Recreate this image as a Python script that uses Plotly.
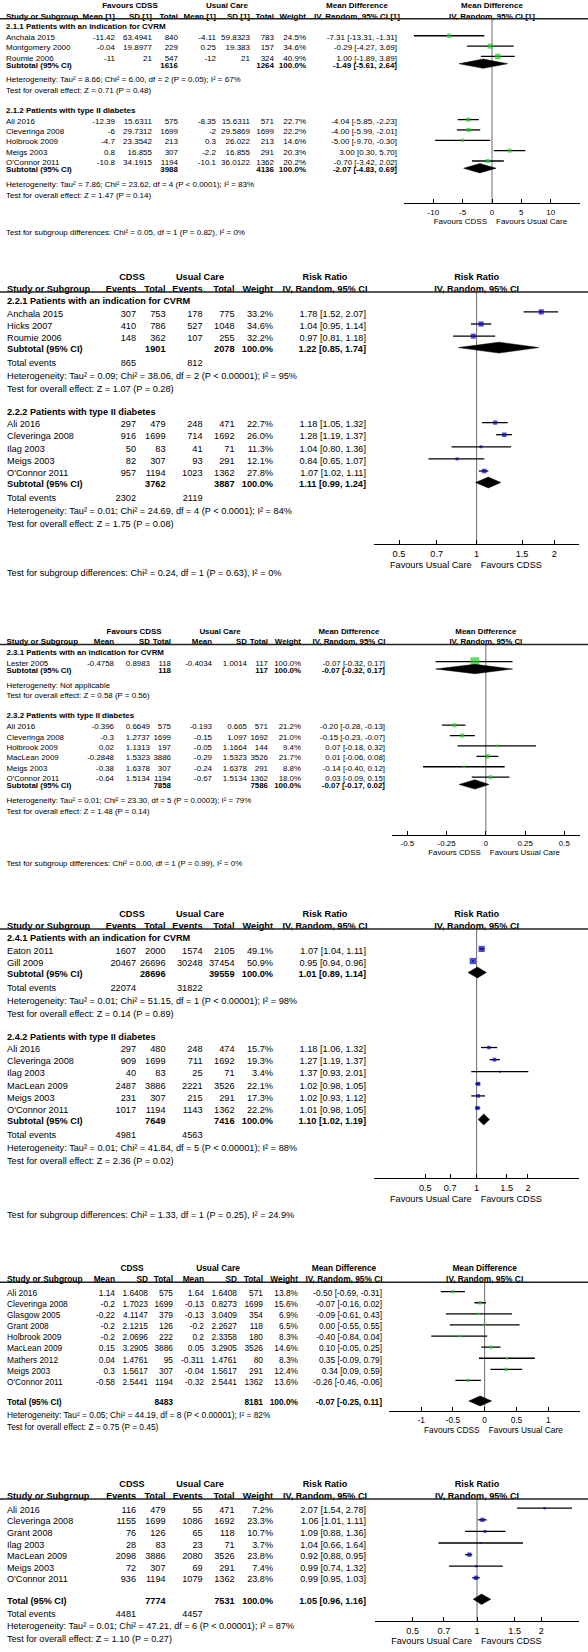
import math
import plotly.graph_objects as go

W, H = 588, 1652
FONT = "Arial, 'Liberation Sans', sans-serif"
GREEN = "#22cc22"
BLUE = "#0000c0"

# ---------------- Panel 1 : Mean difference, subgroups 2.1.x ----------------
P1_SUBGROUPS = ["2.1.1 Patients with an indication for CVRM", "2.1.2 Patients with type II diabetes"]
P1_STUDY = ["Anchala 2015", "Montgomery 2000", "Roumie 2006", "Ali 2016", "Cleveringa 2008",
            "Holbrook 2009", "Meigs 2003", "O'Connor 2011"]
P1_GROUP = [0, 0, 0, 1, 1, 1, 1, 1]
P1_CDSS_MEAN = [-11.42, -0.04, -11, -12.39, -6, -4.7, 0.8, -10.8]
P1_CDSS_SD = [63.4941, 19.8977, 21, 15.6311, 29.7312, 23.3542, 16.855, 34.1915]
P1_CDSS_N = [840, 229, 547, 575, 1699, 213, 307, 1194]
P1_UC_MEAN = [-4.11, 0.25, -12, -8.35, -2, 0.3, -2.2, -10.1]
P1_UC_SD = [59.8323, 19.383, 21, 15.6311, 29.5869, 26.022, 16.855, 36.0122]
P1_UC_N = [783, 157, 324, 571, 1699, 213, 291, 1362]
P1_WEIGHT = [24.5, 34.6, 40.9, 22.7, 22.2, 14.6, 20.3, 20.2]
P1_EST = [-7.31, -0.29, 1.00, -4.04, -4.00, -5.00, 3.00, -0.70]
P1_LO = [-13.31, -4.27, -1.89, -5.85, -5.99, -9.70, 0.30, -3.42]
P1_HI = [-1.31, 3.69, 3.89, -2.23, -2.01, -0.30, 5.70, 2.02]
P1_SUB_CDSS_N = [1616, 3988]
P1_SUB_UC_N = [1264, 4136]
P1_SUB_EST = [-1.49, -2.07]
P1_SUB_LO = [-5.61, -4.83]
P1_SUB_HI = [2.64, 0.69]
P1_HET = ["Heterogeneity: Tau² = 8.66; Chi² = 6.00, df = 2 (P = 0.05); I² = 67%",
          "Heterogeneity: Tau² = 7.86; Chi² = 23.62, df = 4 (P < 0.0001); I² = 83%"]
P1_OVERALL = ["Test for overall effect: Z = 0.71 (P = 0.48)",
              "Test for overall effect: Z = 1.47 (P = 0.14)"]
P1_SUBGROUP_TEST = "Test for subgroup differences: Chi² = 0.05, df = 1 (P = 0.82), I² = 0%"
P1_TICKS = [-10, -5, 0, 5, 10]

# ---------------- Panel 2 : Risk ratio, subgroups 2.2.x ----------------
P2_SUBGROUPS = ["2.2.1 Patients with an indication for CVRM", "2.2.2 Patients with type II diabetes"]
P2_STUDY = ["Anchala 2015", "Hicks 2007", "Roumie 2006", "Ali 2016", "Cleveringa 2008",
            "Ilag 2003", "Meigs 2003", "O'Connor 2011"]
P2_GROUP = [0, 0, 0, 1, 1, 1, 1, 1]
P2_CDSS_EV = [307, 410, 148, 297, 916, 50, 82, 957]
P2_CDSS_N = [753, 786, 362, 479, 1699, 83, 307, 1194]
P2_UC_EV = [178, 527, 107, 248, 714, 41, 93, 1023]
P2_UC_N = [775, 1048, 255, 471, 1692, 71, 291, 1362]
P2_WEIGHT = [33.2, 34.6, 32.2, 22.7, 26.0, 11.3, 12.1, 27.8]
P2_EST = [1.78, 1.04, 0.97, 1.18, 1.28, 1.04, 0.84, 1.07]
P2_LO = [1.52, 0.95, 0.81, 1.05, 1.19, 0.80, 0.65, 1.02]
P2_HI = [2.07, 1.14, 1.18, 1.32, 1.37, 1.36, 1.07, 1.11]
P2_SUB_CDSS_N = [1901, 3762]
P2_SUB_UC_N = [2078, 3887]
P2_SUB_CDSS_EV = [865, 2302]
P2_SUB_UC_EV = [812, 2119]
P2_SUB_EST = [1.22, 1.11]
P2_SUB_LO = [0.85, 0.99]
P2_SUB_HI = [1.74, 1.24]
P2_HET = ["Heterogeneity: Tau² = 0.09; Chi² = 38.06, df = 2 (P < 0.00001); I² = 95%",
          "Heterogeneity: Tau² = 0.01; Chi² = 24.69, df = 4 (P < 0.0001); I² = 84%"]
P2_OVERALL = ["Test for overall effect: Z = 1.07 (P = 0.28)",
              "Test for overall effect: Z = 1.75 (P = 0.08)"]
P2_SUBGROUP_TEST = "Test for subgroup differences: Chi² = 0.24, df = 1 (P = 0.63), I² = 0%"
RR_TICKS = [0.5, 0.7, 1, 1.5, 2]

# ---------------- Panel 3 : Mean difference, subgroups 2.3.x ----------------
P3_SUBGROUPS = ["2.3.1 Patients with an indication for CVRM", "2.3.2 Patients with type II diabetes"]
P3_STUDY = ["Lester 2005", "Ali 2016", "Cleveringa 2008", "Holbrook 2009", "MacLean 2009",
            "Meigs 2003", "O'Connor 2011"]
P3_GROUP = [0, 1, 1, 1, 1, 1, 1]
P3_CDSS_MEAN = [-0.4758, -0.396, -0.3, 0.02, -0.2848, -0.38, -0.64]
P3_CDSS_SD = [0.8983, 0.6649, 1.2737, 1.1313, 1.5323, 1.6378, 1.5134]
P3_CDSS_N = [118, 575, 1699, 197, 3886, 307, 1194]
P3_UC_MEAN = [-0.4034, -0.193, -0.15, -0.05, -0.29, -0.24, -0.67]
P3_UC_SD = [1.0014, 0.665, 1.097, 1.1664, 1.5323, 1.6378, 1.5134]
P3_UC_N = [117, 571, 1692, 144, 3526, 291, 1362]
P3_WEIGHT = [100.0, 21.2, 21.0, 9.4, 21.7, 8.8, 18.0]
P3_EST = [-0.07, -0.20, -0.15, 0.07, 0.01, -0.14, 0.03]
P3_LO = [-0.32, -0.28, -0.23, -0.18, -0.06, -0.40, -0.09]
P3_HI = [0.17, -0.13, -0.07, 0.32, 0.08, 0.12, 0.15]
P3_SUB_CDSS_N = [118, 7858]
P3_SUB_UC_N = [117, 7586]
P3_SUB_EST = [-0.07, -0.07]
P3_SUB_LO = [-0.32, -0.17]
P3_SUB_HI = [0.17, 0.02]
P3_HET = ["Heterogeneity: Not applicable",
          "Heterogeneity: Tau² = 0.01; Chi² = 23.30, df = 5 (P = 0.0003); I² = 79%"]
P3_OVERALL = ["Test for overall effect: Z = 0.58 (P = 0.56)",
              "Test for overall effect: Z = 1.48 (P = 0.14)"]
P3_SUBGROUP_TEST = "Test for subgroup differences: Chi² = 0.00, df = 1 (P = 0.99), I² = 0%"
P3_TICKS = [-0.5, -0.25, 0, 0.25, 0.5]

# ---------------- Panel 4 : Risk ratio, subgroups 2.4.x ----------------
P4_SUBGROUPS = ["2.4.1 Patients with an indication for CVRM", "2.4.2 Patients with type II diabetes"]
P4_STUDY = ["Eaton 2011", "Gill 2009", "Ali 2016", "Cleveringa 2008", "Ilag 2003",
            "MacLean 2009", "Meigs 2003", "O'Connor 2011"]
P4_GROUP = [0, 0, 1, 1, 1, 1, 1, 1]
P4_CDSS_EV = [1607, 20467, 297, 909, 40, 2487, 231, 1017]
P4_CDSS_N = [2000, 26696, 480, 1699, 83, 3886, 307, 1194]
P4_UC_EV = [1574, 30248, 248, 711, 25, 2221, 215, 1143]
P4_UC_N = [2105, 37454, 474, 1692, 71, 3526, 291, 1362]
P4_WEIGHT = [49.1, 50.9, 15.7, 19.3, 3.4, 22.1, 17.3, 22.2]
P4_EST = [1.07, 0.95, 1.18, 1.27, 1.37, 1.02, 1.02, 1.01]
P4_LO = [1.04, 0.94, 1.06, 1.19, 0.93, 0.98, 0.93, 0.98]
P4_HI = [1.11, 0.96, 1.32, 1.37, 2.01, 1.05, 1.12, 1.05]
P4_SUB_CDSS_N = [28696, 7649]
P4_SUB_UC_N = [39559, 7416]
P4_SUB_CDSS_EV = [22074, 4981]
P4_SUB_UC_EV = [31822, 4563]
P4_SUB_EST = [1.01, 1.10]
P4_SUB_LO = [0.89, 1.02]
P4_SUB_HI = [1.14, 1.19]
P4_HET = ["Heterogeneity: Tau² = 0.01; Chi² = 51.15, df = 1 (P < 0.00001); I² = 98%",
          "Heterogeneity: Tau² = 0.01; Chi² = 41.84, df = 5 (P < 0.00001); I² = 88%"]
P4_OVERALL = ["Test for overall effect: Z = 0.14 (P = 0.89)",
              "Test for overall effect: Z = 2.36 (P = 0.02)"]
P4_SUBGROUP_TEST = "Test for subgroup differences: Chi² = 1.33, df = 1 (P = 0.25), I² = 24.9%"

# ---------------- Panel 5 : Mean difference, overall ----------------
P5_STUDY = ["Ali 2016", "Cleveringa 2008", "Glasgow 2005", "Grant 2008", "Holbrook 2009",
            "MacLean 2009", "Mathers 2012", "Meigs 2003", "O'Connor 2011"]
P5_GROUP = [0] * 9
P5_CDSS_MEAN = [1.14, -0.2, -0.22, -0.2, -0.2, 0.15, 0.04, 0.3, -0.58]
P5_CDSS_SD = [1.6408, 1.7023, 4.1147, 2.1215, 2.0696, 3.2905, 1.4761, 1.5617, 2.5441]
P5_CDSS_N = [575, 1699, 379, 126, 222, 3886, 95, 307, 1194]
P5_UC_MEAN = [1.64, -0.13, -0.13, -0.2, 0.2, 0.05, -0.311, -0.04, -0.32]
P5_UC_SD = [1.6408, 0.8273, 3.0409, 2.2627, 2.3358, 3.2905, 1.4761, 1.5617, 2.5441]
P5_UC_N = [571, 1699, 354, 118, 180, 3526, 80, 291, 1362]
P5_WEIGHT = [13.8, 15.6, 6.9, 6.5, 8.3, 14.6, 8.3, 12.4, 13.6]
P5_EST = [-0.50, -0.07, -0.09, 0.00, -0.40, 0.10, 0.35, 0.34, -0.26]
P5_LO = [-0.69, -0.16, -0.61, -0.55, -0.84, -0.05, -0.09, 0.09, -0.46]
P5_HI = [-0.31, 0.02, 0.43, 0.55, 0.04, 0.25, 0.79, 0.59, -0.06]
P5_TOT_CDSS_N = [8483]
P5_TOT_UC_N = [8181]
P5_TOT_EST = [-0.07]
P5_TOT_LO = [-0.25]
P5_TOT_HI = [0.11]
P5_HET = ["Heterogeneity: Tau² = 0.05; Chi² = 44.19, df = 8 (P < 0.00001); I² = 82%"]
P5_OVERALL = ["Test for overall effect: Z = 0.75 (P = 0.45)"]
P5_TICKS = [-1, -0.5, 0, 0.5, 1]

# ---------------- Panel 6 : Risk ratio, overall ----------------
P6_STUDY = ["Ali 2016", "Cleveringa 2008", "Grant 2008", "Ilag 2003", "MacLean 2009",
            "Meigs 2003", "O'Connor 2011"]
P6_GROUP = [0] * 7
P6_CDSS_EV = [116, 1155, 76, 28, 2098, 72, 936]
P6_CDSS_N = [479, 1699, 126, 83, 3886, 307, 1194]
P6_UC_EV = [55, 1086, 65, 23, 2080, 69, 1079]
P6_UC_N = [471, 1692, 118, 71, 3526, 291, 1362]
P6_WEIGHT = [7.2, 23.3, 10.7, 3.7, 23.8, 7.4, 23.8]
P6_EST = [2.07, 1.06, 1.09, 1.04, 0.92, 0.99, 0.99]
P6_LO = [1.54, 1.01, 0.88, 0.66, 0.88, 0.74, 0.95]
P6_HI = [2.78, 1.11, 1.36, 1.64, 0.95, 1.32, 1.03]
P6_TOT_CDSS_N = [7774]
P6_TOT_UC_N = [7531]
P6_TOT_CDSS_EV = [4481]
P6_TOT_UC_EV = [4457]
P6_TOT_EST = [1.05]
P6_TOT_LO = [0.96]
P6_TOT_HI = [1.16]
P6_HET = ["Heterogeneity: Tau² = 0.01; Chi² = 47.21, df = 6 (P < 0.00001); I² = 87%"]
P6_OVERALL = ["Test for overall effect: Z = 1.10 (P = 0.27)"]

MD_HEADS = ["Mean", "SD", "Total", "Mean", "SD", "Total"]
RR_HEADS = ["Events", "Total", "Events", "Total"]
RR_COLX = [136, 165.5, 202.5, 234.5]

# ---------------- panel layout specs (built from the arrays) ----------------
panels = [
    dict(kind="MD", fs=8.0, top=4.2, h=10.35, left=6, color=GREEN,
         cols=[P1_CDSS_MEAN, P1_CDSS_SD, P1_CDSS_N, P1_UC_MEAN, P1_UC_SD, P1_UC_N],
         col_x=[115, 152, 178, 216, 250, 274], weight_x=306, ci_x=397,
         col_heads=["Mean [1]", "SD [1]", "Total", "Mean [1]", "SD [1]", "Total"],
         grp_heads=[("Favours CDSS", 130), ("Usual Care", 227)],
         ci_head=("Mean Difference", "IV, Random, 95% CI [1]"), ci_head_x=357,
         study=P1_STUDY, group=P1_GROUP, weight=P1_WEIGHT, est=P1_EST, lo=P1_LO, hi=P1_HI,
         subgroups=P1_SUBGROUPS, sub_label="Subtotal (95% CI)",
         sub_n=[P1_SUB_CDSS_N, P1_SUB_UC_N], sub_ev=None,
         sub_est=P1_SUB_EST, sub_lo=P1_SUB_LO, sub_hi=P1_SUB_HI,
         het=P1_HET, overall=P1_OVERALL, sgtest=P1_SUBGROUP_TEST,
         dom=(404, 580), rng=(-15, 15), log=False, ticks=P1_TICKS,
         fav=("Favours CDSS", "Favours Usual Care"),
         sub_gap=0.7, het_gap=1.4, test_gap=1.05, axis_ref="test", axis_after=0.9, sg_after=2.7),
    dict(kind="RR", fs=9.2, top=275, h=12.1, left=7, color=BLUE,
         cols=[P2_CDSS_EV, P2_CDSS_N, P2_UC_EV, P2_UC_N],
         col_x=RR_COLX, weight_x=273, ci_x=366,
         col_heads=RR_HEADS, grp_heads=[("CDSS", 132), ("Usual Care", 200)],
         ci_head=("Risk Ratio", "IV, Random, 95% CI"), ci_head_x=325,
         study=P2_STUDY, group=P2_GROUP, weight=P2_WEIGHT, est=P2_EST, lo=P2_LO, hi=P2_HI,
         subgroups=P2_SUBGROUPS, sub_label="Subtotal (95% CI)",
         sub_n=[P2_SUB_CDSS_N, P2_SUB_UC_N], sub_ev=[P2_SUB_CDSS_EV, P2_SUB_UC_EV],
         sub_est=P2_SUB_EST, sub_lo=P2_SUB_LO, sub_hi=P2_SUB_HI,
         het=P2_HET, overall=P2_OVERALL, sgtest=P2_SUBGROUP_TEST,
         dom=(374, 579.3), rng=(0.4, 2.5), log=True, ticks=RR_TICKS,
         fav=("Favours Usual Care", "Favours CDSS"),
         sub_gap=0.95, tev_gap=1.15, het_gap=1.05, test_gap=1.05,
         axis_ref="test", axis_after=1.8, sg_after=2.3),
    dict(kind="MD", fs=7.9, top=630, h=10.4, left=6.5, color=GREEN,
         cols=[P3_CDSS_MEAN, P3_CDSS_SD, P3_CDSS_N, P3_UC_MEAN, P3_UC_SD, P3_UC_N],
         col_x=[114, 150, 171, 212, 247, 268], weight_x=301, ci_x=385,
         col_heads=MD_HEADS, grp_heads=[("Favours CDSS", 134), ("Usual Care", 220)],
         ci_head=("Mean Difference", "IV, Random, 95% CI"), ci_head_x=349,
         study=P3_STUDY, group=P3_GROUP, weight=P3_WEIGHT, est=P3_EST, lo=P3_LO, hi=P3_HI,
         subgroups=P3_SUBGROUPS, sub_label="Subtotal (95% CI)",
         sub_n=[P3_SUB_CDSS_N, P3_SUB_UC_N], sub_ev=None,
         sub_est=P3_SUB_EST, sub_lo=P3_SUB_LO, sub_hi=P3_SUB_HI,
         het=P3_HET, overall=P3_OVERALL, sgtest=P3_SUBGROUP_TEST,
         dom=(391.7, 580), rng=(-0.6, 0.6), log=False, ticks=P3_TICKS,
         fav=("Favours CDSS", "Favours Usual Care"),
         sub_gap=0.7, het_gap=1.4, test_gap=1.05, axis_ref="test", axis_after=2.4, sg_after=2.6),
    dict(kind="RR", fs=9.2, top=912, h=12.1, left=7, color=BLUE,
         cols=[P4_CDSS_EV, P4_CDSS_N, P4_UC_EV, P4_UC_N],
         col_x=RR_COLX, weight_x=273, ci_x=366,
         col_heads=RR_HEADS, grp_heads=[("CDSS", 132), ("Usual Care", 200)],
         ci_head=("Risk Ratio", "IV, Random, 95% CI"), ci_head_x=325,
         study=P4_STUDY, group=P4_GROUP, weight=P4_WEIGHT, est=P4_EST, lo=P4_LO, hi=P4_HI,
         subgroups=P4_SUBGROUPS, sub_label="Subtotal (95% CI)",
         sub_n=[P4_SUB_CDSS_N, P4_SUB_UC_N], sub_ev=[P4_SUB_CDSS_EV, P4_SUB_UC_EV],
         sub_est=P4_SUB_EST, sub_lo=P4_SUB_LO, sub_hi=P4_SUB_HI,
         het=P4_HET, overall=P4_OVERALL, sgtest=P4_SUBGROUP_TEST,
         dom=(374, 579.3), rng=(0.25, 4), log=True, ticks=RR_TICKS,
         fav=("Favours Usual Care", "Favours CDSS"),
         sub_gap=0.95, tev_gap=1.15, het_gap=1.05, test_gap=1.05,
         axis_ref="test", axis_after=1.6, sg_after=2.9),
    dict(kind="MD", fs=8.35, top=1266.7, h=11.1, left=7, color=GREEN,
         cols=[P5_CDSS_MEAN, P5_CDSS_SD, P5_CDSS_N, P5_UC_MEAN, P5_UC_SD, P5_UC_N],
         col_x=[115, 148, 173, 204, 237, 263], weight_x=298, ci_x=382,
         col_heads=MD_HEADS, grp_heads=[("CDSS", 132), ("Usual Care", 218)],
         ci_head=("Mean Difference", "IV, Random, 95% CI"), ci_head_x=344,
         study=P5_STUDY, group=P5_GROUP, weight=P5_WEIGHT, est=P5_EST, lo=P5_LO, hi=P5_HI,
         subgroups=None, sub_label="Total (95% CI)", first_gap=0.85,
         sub_n=[P5_TOT_CDSS_N, P5_TOT_UC_N], sub_ev=None,
         sub_est=P5_TOT_EST, sub_lo=P5_TOT_LO, sub_hi=P5_TOT_HI,
         het=P5_HET, overall=P5_OVERALL, sgtest=None,
         dom=(389.3, 580), rng=(-1.5, 1.5), log=False, ticks=P5_TICKS,
         fav=("Favours CDSS", "Favours Usual Care"),
         sub_gap=1.85, het_gap=1.12, test_gap=1.08, axis_ref="sub", axis_after=0.9, sg_after=0),
    dict(kind="RR", fs=9.1, top=1482.7, h=11.6, left=7, color=BLUE,
         cols=[P6_CDSS_EV, P6_CDSS_N, P6_UC_EV, P6_UC_N],
         col_x=RR_COLX, weight_x=273, ci_x=366,
         col_heads=RR_HEADS, grp_heads=[("CDSS", 132), ("Usual Care", 200)],
         ci_head=("Risk Ratio", "IV, Random, 95% CI"), ci_head_x=325,
         study=P6_STUDY, group=P6_GROUP, weight=P6_WEIGHT, est=P6_EST, lo=P6_LO, hi=P6_HI,
         subgroups=None, sub_label="Total (95% CI)", first_gap=0.8,
         sub_n=[P6_TOT_CDSS_N, P6_TOT_UC_N], sub_ev=[P6_TOT_CDSS_EV, P6_TOT_UC_EV],
         sub_est=P6_TOT_EST, sub_lo=P6_TOT_LO, sub_hi=P6_TOT_HI,
         het=P6_HET, overall=P6_OVERALL, sgtest=None,
         dom=(375, 579), rng=(1 / 3, 3), log=True, ticks=RR_TICKS,
         fav=("Favours Usual Care", "Favours CDSS"),
         sub_gap=1.85, tev_gap=1.15, het_gap=1.05, test_gap=1.05,
         axis_ref="events", axis_after=0.7, sg_after=0),
]

# ---------------- helpers ----------------
texts = {}


def T(x, y, s, fs, align="left", bold=False):
    # Plotly's "middle" text sits ~0.26*fs above the point; compensate so y is the visual centre
    pos = {"left": "middle right", "right": "middle left", "center": "middle center"}[align]
    d = texts.setdefault((fs, pos), {"x": [], "y": [], "t": []})
    d["x"].append(x)
    d["y"].append(y + 0.26 * fs)
    d["t"].append("<b>%s</b>" % s if bold else s)


def ci_str(e, l, u):
    return "%.2f [%.2f, %.2f]" % (e, l, u)


fig = go.Figure()
shapes = []
layout_axes = {}

for pi, p in enumerate(panels):
    axid = "x" if pi == 0 else "x%d" % (pi + 1)
    axkey = "xaxis" if pi == 0 else "xaxis%d" % (pi + 1)
    h, fs, left = p["h"], p["fs"], p["left"]
    y_h1 = p["top"]
    y_h2 = y_h1 + h
    y_ul = y_h2 + 0.4 * h
    d0, d1 = p["dom"]
    if p["log"]:
        r0, r1 = math.log10(p["rng"][0]), math.log10(p["rng"][1])
        null_v = 1
    else:
        r0, r1 = p["rng"]
        null_v = 0
    null_px = d0 + (0.0 - r0) / (r1 - r0) * (d1 - d0)
    dom_c = (d0 + d1) / 2

    # headers
    for lab, cx in p["grp_heads"]:
        T(cx, y_h1, lab, fs, "center", True)
    T(left, y_h2, "Study or Subgroup", fs, "left", True)
    for lab, cx in zip(p["col_heads"], p["col_x"]):
        T(cx, y_h2, lab, fs, "right", True)
    T(p["weight_x"], y_h2, "Weight", fs, "right", True)
    T(p["ci_head_x"], y_h1, p["ci_head"][0], fs, "center", True)
    T(p["ci_head_x"], y_h2, p["ci_head"][1], fs, "center", True)
    T(dom_c, y_h1, p["ci_head"][0], fs, "center", True)
    T(dom_c, y_h2, p["ci_head"][1], fs, "center", True)
    shapes.append(dict(type="line", xref="paper", yref="y", x0=0, x1=1, y0=y_ul, y1=y_ul,
                       line=dict(color="#222", width=1.6)))

    tot_cols = [2, 5] if p["kind"] == "MD" else [1, 3]
    ev_cols = [0, 2]
    sq_x, sq_y, sq_s = [], [], []
    ci_xs, ci_ys = [], []
    dm_x, dm_y = [], []
    y = y_ul
    last = {}
    ngroups = len(p["sub_est"])
    for g in range(ngroups):
        if p["subgroups"]:
            y += (0.6 * h if g == 0 else 1.9 * h)
            T(left, y, p["subgroups"][g], fs, "left", True)
            y += 1.05 * h
        else:
            y += p["first_gap"] * h
        idx = [i for i, gg in enumerate(p["group"]) if gg == g]
        for k, i in enumerate(idx):
            if k > 0:
                y += h
            T(left, y, p["study"][i], fs, "left")
            for col, cx in zip(p["cols"], p["col_x"]):
                T(cx, y, str(col[i]), fs, "right")
            T(p["weight_x"], y, "%.1f%%" % p["weight"][i], fs, "right")
            T(p["ci_x"], y, ci_str(p["est"][i], p["lo"][i], p["hi"][i]), fs, "right")
            sq_x.append(p["est"][i])
            sq_y.append(y)
            sq_s.append(max(2.0, 0.88 * math.sqrt(p["weight"][i])))
            ci_xs += [p["lo"][i], p["hi"][i], None]
            ci_ys += [y, y, None]
        # subtotal / total row
        y += p["sub_gap"] * h
        last["sub"] = y
        T(left, y, p["sub_label"], fs, "left", True)
        T(p["col_x"][tot_cols[0]], y, str(p["sub_n"][0][g]), fs, "right", True)
        T(p["col_x"][tot_cols[1]], y, str(p["sub_n"][1][g]), fs, "right", True)
        T(p["weight_x"], y, "100.0%", fs, "right", True)
        T(p["ci_x"], y, ci_str(p["sub_est"][g], p["sub_lo"][g], p["sub_hi"][g]), fs, "right", True)
        dh = 0.45 * h
        dm_x += [p["sub_lo"][g], p["sub_est"][g], p["sub_hi"][g], p["sub_est"][g], p["sub_lo"][g], None]
        dm_y += [y, y - dh, y, y + dh, y, None]
        if p["sub_ev"] is not None:
            y += p["tev_gap"] * h
            last["events"] = y
            T(left, y, "Total events", fs, "left")
            T(p["col_x"][ev_cols[0]], y, str(p["sub_ev"][0][g]), fs, "right")
            T(p["col_x"][ev_cols[1]], y, str(p["sub_ev"][1][g]), fs, "right")
        y += p["het_gap"] * h
        T(left, y, p["het"][g], fs, "left")
        y += p["test_gap"] * h
        last["test"] = y
        T(left, y, p["overall"][g], fs, "left")

    ay = last[p["axis_ref"]] + p["axis_after"] * h
    fy = ay + 2.1 * fs
    T(null_px - 5, fy, p["fav"][0], fs, "right")
    T(null_px + 4, fy, p["fav"][1], fs, "left")
    if p["sgtest"]:
        T(left, ay + p["sg_after"] * h, p["sgtest"], fs, "left")

    # forest marks
    fig.add_trace(go.Scatter(x=[null_v, null_v], y=[y_ul, ay], mode="lines", xaxis=axid, yaxis="y",
                             line=dict(color="#6a6a6a", width=1), hoverinfo="skip", showlegend=False))
    fig.add_trace(go.Scatter(x=ci_xs, y=ci_ys, mode="lines", xaxis=axid, yaxis="y",
                             line=dict(color="#000", width=1.3), hoverinfo="skip", showlegend=False))
    fig.add_trace(go.Scatter(x=sq_x, y=sq_y, mode="markers", xaxis=axid, yaxis="y",
                             marker=dict(symbol="square", size=sq_s, color=p["color"], line=dict(width=0)),
                             hoverinfo="skip", showlegend=False))
    fig.add_trace(go.Scatter(x=dm_x, y=dm_y, mode="lines", fill="toself", fillcolor="#000",
                             xaxis=axid, yaxis="y", line=dict(color="#000", width=0.5),
                             hoverinfo="skip", showlegend=False))

    layout_axes[axkey] = dict(
        domain=[d0 / W, d1 / W], anchor="free", position=1 - ay / H,
        type="log" if p["log"] else "linear", range=[r0, r1],
        showline=True, linecolor="#000", linewidth=1.2,
        ticks="inside", ticklen=4, tickwidth=1, tickcolor="#000",
        tickvals=p["ticks"], ticktext=["%g" % t for t in p["ticks"]],
        tickfont=dict(size=fs, family=FONT, color="#000"), ticklabelstandoff=1,
        showgrid=False, zeroline=False, fixedrange=True)

for (fs, pos), d in texts.items():
    fig.add_trace(go.Scatter(x=d["x"], y=d["y"], text=d["t"], mode="text", textposition=pos,
                             textfont=dict(size=fs, family=FONT, color="#000"),
                             xaxis="x7", yaxis="y", cliponaxis=False, hoverinfo="skip",
                             showlegend=False))

fig.update_layout(
    width=W, height=H, autosize=False,
    margin=dict(l=0, r=0, t=0, b=0, pad=0),
    paper_bgcolor="white", plot_bgcolor="rgba(0,0,0,0)", showlegend=False,
    yaxis=dict(range=[H, 0], domain=[0, 1], visible=False, fixedrange=True, anchor="x7"),
    xaxis7=dict(domain=[0, 1], range=[0, W], visible=False, fixedrange=True, anchor="y"),
    shapes=shapes,
    **layout_axes,
)

fig.write_html("out.html", config={"displayModeBar": False},
               post_script="document.body.style.margin='0px';")
